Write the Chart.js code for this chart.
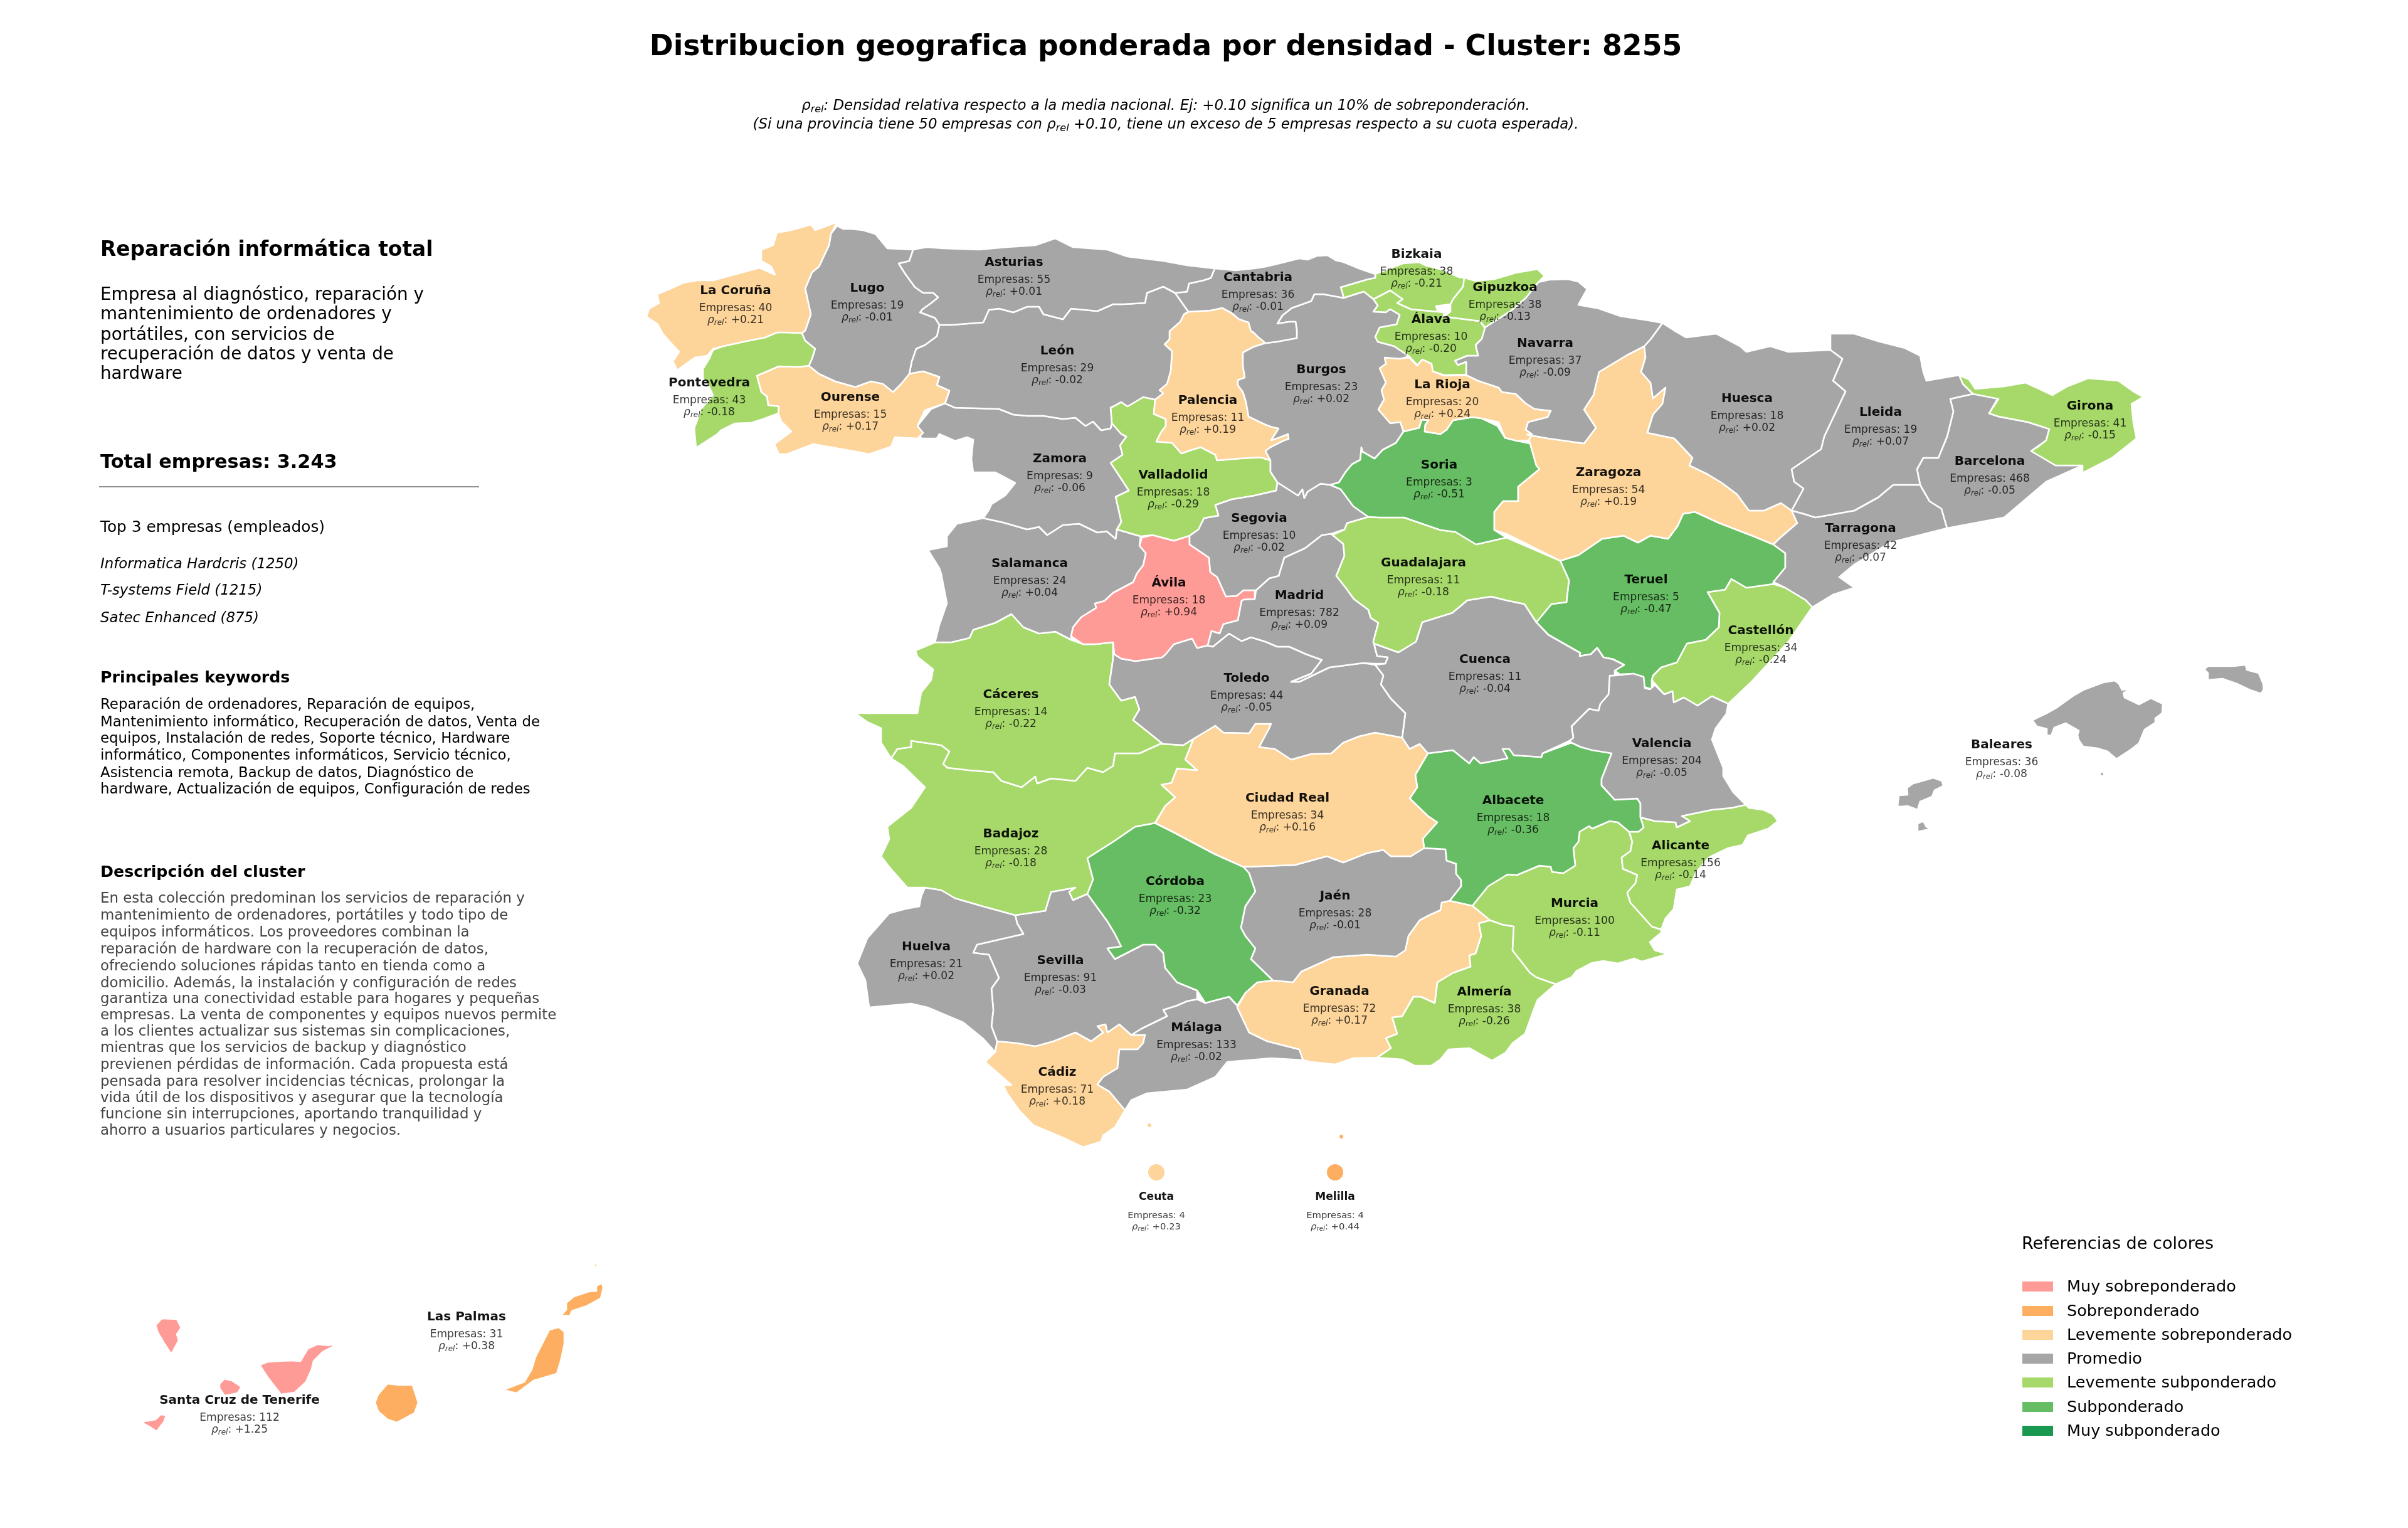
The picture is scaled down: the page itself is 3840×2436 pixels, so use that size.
<!DOCTYPE html>
<html lang="es"><head><meta charset="utf-8">
<script src="https://cdn.jsdelivr.net/npm/chart.js@4/dist/chart.umd.js"></script>
<style>
html,body{margin:0;padding:0;background:#fff}
#stage{position:relative;width:3840px;height:2436px;overflow:hidden;font-family:"DejaVu Sans",sans-serif;color:#000}
canvas{position:absolute;left:0;top:0}
.t{position:absolute;white-space:nowrap;transform:translateY(-50%);line-height:1.16}
.c{transform:translate(-50%,-50%)}
.sub{font-size:70%;position:relative;top:.28em}
.sw{position:absolute;width:49px;height:16px}
</style></head><body>
<div id="stage"><canvas id="map" width="3840" height="2436"></canvas></div>
<script>
// ---------- text ----------
const chartTitle = "Distribucion geografica ponderada por densidad - Cluster: 8255";
const clusterName = "Reparación informática total";
const clusterSummary = ["Empresa al diagnóstico, reparación y","mantenimiento de ordenadores y","portátiles, con servicios de","recuperación de datos y venta de","hardware"];
const totalLine = "Total empresas: 3.243";
const topHeading = "Top 3 empresas (empleados)";
const topCompanies = ["Informatica Hardcris (1250)","T-systems Field (1215)","Satec Enhanced (875)"];
const keywordsHeading = "Principales keywords";
const keywordLines = ["Reparación de ordenadores, Reparación de equipos,","Mantenimiento informático, Recuperación de datos, Venta de","equipos, Instalación de redes, Soporte técnico, Hardware","informático, Componentes informáticos, Servicio técnico,","Asistencia remota, Backup de datos, Diagnóstico de","hardware, Actualización de equipos, Configuración de redes"];
const descriptionHeading = "Descripción del cluster";
const descriptionLines = ["En esta colección predominan los servicios de reparación y","mantenimiento de ordenadores, portátiles y todo tipo de","equipos informáticos. Los proveedores combinan la","reparación de hardware con la recuperación de datos,","ofreciendo soluciones rápidas tanto en tienda como a","domicilio. Además, la instalación y configuración de redes","garantiza una conectividad estable para hogares y pequeñas","empresas. La venta de componentes y equipos nuevos permite","a los clientes actualizar sus sistemas sin complicaciones,","mientras que los servicios de backup y diagnóstico","previenen pérdidas de información. Cada propuesta está","pensada para resolver incidencias técnicas, prolongar la","vida útil de los dispositivos y asegurar que la tecnología","funcione sin interrupciones, aportando tranquilidad y","ahorro a usuarios particulares y negocios."];
const legendTitle = "Referencias de colores";
const legendLabels = ["Muy sobreponderado","Sobreponderado","Levemente sobreponderado","Promedio","Levemente subponderado","Subponderado","Muy subponderado"];
const legendColors = ["#FF9B96","#FDAE61","#FDD49A","#A6A6A6","#A6D96A","#66BD63","#1A9850"];

// ---------- values ----------
const provinces = ["La Coruña","Lugo","Asturias","Cantabria","Bizkaia","Gipuzkoa","Álava","Navarra","Huesca","Lleida","Girona","Barcelona","Tarragona","Pontevedra","Ourense","León","Palencia","Burgos","La Rioja","Zaragoza","Zamora","Valladolid","Soria","Segovia","Salamanca","Ávila","Guadalajara","Madrid","Teruel","Castellón","Cuenca","Toledo","Cáceres","Badajoz","Ciudad Real","Albacete","Valencia","Alicante","Murcia","Córdoba","Jaén","Huelva","Sevilla","Granada","Almería","Málaga","Cádiz","Baleares","Las Palmas","Santa Cruz de Tenerife","Ceuta","Melilla"];
const companies = [40,19,55,36,38,38,10,37,18,19,41,468,42,43,15,29,11,23,20,54,9,18,3,10,24,18,11,782,5,34,11,44,14,28,34,18,204,156,100,23,28,21,91,72,38,133,71,36,31,112,4,4];
const rhoRel = [0.21,-0.01,0.01,-0.01,-0.21,-0.13,-0.20,-0.09,0.02,0.07,-0.15,-0.05,-0.07,-0.18,0.17,-0.02,0.19,0.02,0.24,0.19,-0.06,-0.29,-0.51,-0.02,0.04,0.94,-0.18,0.09,-0.47,-0.24,-0.04,-0.05,-0.22,-0.18,0.16,-0.36,-0.05,-0.14,-0.11,-0.32,-0.01,0.02,-0.03,0.17,-0.26,-0.02,0.18,-0.08,0.38,1.25,0.23,0.44];
// label anchor of each province, in map units
const labelX = [1173,1383,1617,2006,2259,2400,2282,2464,2786,2999,3333,3173,2967,1131,1356,1686,1926,2107,2300,2565,1690,1871,2295,2008,1642,1864,2270,2072,2625,2808,2368,1988,1612,1612,2053,2413,2650,2680,2511,1874,2129,1477,1691,2136,2367,1908,1686,3192,744,382,1844,2129];
const labelY = [464,460,419,443,406,459,510,548,636,658,648,736,843,611,634,560,639,590,614,754,732,758,742,827,899,930,898,950,925,1006,1052,1082,1108,1330,1273,1277,1186,1349,1441,1406,1429,1510,1532,1581,1582,1639,1710,1188,2100,2233,1909,1909];

// ---------- outlines, x,y pairs in map units ----------
const laCoruna=[1335,354,1325,373,1322,391,1306,425,1295,434,1284,460,1293,501,1284,527,1279,531,1255,530,1239,530,1220,538,1185,545,1153,552,1137,556,1128,567,1108,570,1083,588,1080,590,1073,576,1083,561,1070,547,1057,532,1048,516,1031,505,1035,492,1051,483,1048,469,1070,460,1089,451,1112,447,1137,447,1185,434,1211,427,1236,438,1230,425,1214,416,1214,398,1233,391,1239,371,1262,367,1293,358,1300,367];
const lugo=[1325,373,1335,360,1345,365,1357,365,1376,367,1396,373,1415,396,1456,398,1450,416,1433,420,1443,436,1459,458,1472,467,1488,467,1496,474,1485,483,1471,493,1467,498,1491,507,1498,518,1494,536,1475,550,1461,556,1454,576,1450,596,1437,612,1424,625,1408,612,1389,608,1364,617,1332,608,1306,596,1290,583,1295,572,1300,556,1284,543,1279,531,1284,527,1293,501,1284,460,1295,434,1306,425,1322,391];
const asturias=[1456,398,1478,394,1504,396,1561,398,1606,394,1651,391,1683,380,1711,394,1766,398,1798,409,1855,416,1893,423,1937,428,1931,443,1919,447,1896,452,1893,465,1874,467,1855,457,1829,467,1826,483,1791,485,1775,485,1750,496,1708,492,1695,509,1664,501,1657,489,1638,489,1616,498,1593,492,1577,494,1568,514,1517,518,1498,518,1491,507,1467,498,1471,493,1485,483,1496,474,1488,467,1472,467,1459,458,1443,436,1433,420,1450,416];
const cantabria=[1937,428,1970,431,2000,428,2019,425,2040,420,2072,412,2085,414,2100,408,2117,407,2130,415,2143,418,2167,428,2193,437,2193,443,2182,445,2138,458,2143,475,2110,469,2096,469,2091,480,2060,491,2045,503,2037,516,2056,513,2066,513,2068,526,2068,539,2035,545,2018,547,2006,537,1999,530,1995,528,1991,514,1976,509,1964,499,1949,491,1930,495,1895,497,1874,467,1893,465,1896,452,1919,447,1931,443];
const bizkaia=[2193,437,2237,420,2263,418,2273,423,2300,430,2327,442,2335,443,2333,457,2317,477,2313,485,2290,488,2293,497,2250,493,2228,483,2237,477,2217,463,2190,477,2175,465,2165,468,2143,475,2138,458,2182,445,2193,443];
const gipuzkoa=[2333,442,2353,448,2383,445,2417,435,2452,429,2463,440,2453,450,2433,475,2410,495,2368,522,2360,512,2313,506,2302,505,2313,497,2313,485,2317,477,2333,457];
const alava=[2190,477,2217,463,2237,477,2228,483,2250,493,2293,497,2303,498,2302,505,2313,506,2360,512,2368,523,2363,540,2353,550,2357,567,2340,567,2320,575,2325,582,2338,577,2338,597,2303,598,2285,592,2283,580,2268,573,2260,582,2247,568,2223,552,2197,545,2193,537,2200,522,2227,517,2232,502,2217,493,2210,498,2190,497,2197,487];
const alavaWest=[2170,523,2180,512,2200,520,2195,525,2183,528,2182,533];
const navarra=[2453,450,2470,446,2500,445,2517,449,2531,461,2517,486,2550,492,2584,504,2636,512,2651,515,2632,541,2622,552,2593,567,2550,593,2541,630,2526,653,2545,682,2526,707,2469,699,2435,693,2443,692,2433,685,2437,673,2468,665,2473,655,2447,652,2433,643,2417,628,2395,625,2390,618,2357,607,2338,598,2338,577,2325,582,2320,575,2340,567,2357,567,2353,550,2363,540,2368,522,2410,495,2433,475];
const huesca=[2651,515,2670,527,2689,538,2737,532,2775,552,2785,561,2823,552,2852,561,2919,558,2938,572,2923,607,2943,624,2909,696,2904,716,2857,748,2861,768,2876,779,2857,814,2840,802,2813,814,2789,814,2770,788,2746,770,2723,756,2694,742,2699,730,2670,699,2627,690,2636,661,2651,644,2656,618,2636,635,2632,610,2617,593,2624,570,2622,552,2632,541];
const lleida=[2919,532,2957,532,2995,544,3038,555,3062,567,3067,593,3072,607,3124,598,3130,612,3146,628,3110,636,3115,656,3105,696,3091,730,3067,730,3057,748,3062,773,3019,773,2995,793,2957,814,2895,825,2876,819,2857,814,2876,779,2861,768,2857,748,2904,716,2909,696,2943,624,2923,607,2938,572,2919,558];
const girona=[3124,598,3140,605,3150,620,3196,616,3230,610,3254,621,3273,630,3297,616,3330,603,3378,607,3402,624,3418,633,3399,644,3402,673,3407,699,3368,730,3321,754,3321,742,3278,742,3239,719,3249,713,3263,702,3268,684,3234,673,3187,664,3172,659,3187,636,3146,628,3130,612];
const barcelona=[3110,636,3146,628,3187,633,3172,659,3187,664,3234,673,3268,684,3263,702,3239,719,3278,742,3321,742,3263,768,3196,825,3105,842,3096,811,3077,799,3062,773,3057,748,3067,730,3091,730,3105,696,3115,656];
const tarragona=[3019,773,3062,773,3077,799,3096,811,3105,842,3014,865,2957,900,2933,920,2957,937,2923,948,2890,968,2880,957,2847,937,2828,928,2847,905,2847,882,2828,868,2837,859,2866,834,2857,814,2876,819,2895,825,2957,814,2995,793];
const pontevedra=[1279,531,1284,543,1300,556,1295,572,1290,583,1274,585,1242,584,1207,599,1214,625,1223,632,1225,646,1242,648,1241,659,1217,668,1198,674,1172,675,1150,686,1144,692,1110,714,1107,683,1118,652,1137,630,1131,617,1121,603,1121,588,1131,572,1137,558,1153,552,1185,545,1220,538,1239,530,1255,530];
const ourense=[1207,599,1242,584,1274,585,1290,583,1306,596,1332,608,1364,617,1389,608,1408,612,1424,625,1437,612,1450,596,1472,592,1498,601,1494,614,1514,623,1507,643,1475,654,1463,679,1472,690,1463,699,1427,697,1421,712,1386,724,1360,719,1297,708,1255,724,1242,724,1235,708,1262,688,1246,672,1241,659,1242,648,1225,646,1223,632,1214,625];
const leon=[1498,518,1517,518,1568,514,1577,494,1593,492,1616,498,1638,489,1657,489,1664,501,1695,509,1708,492,1750,496,1775,485,1791,485,1826,483,1829,467,1855,457,1874,467,1895,497,1888,501,1882,513,1865,528,1865,541,1857,549,1869,560,1867,591,1861,612,1849,622,1855,627,1842,637,1823,633,1798,648,1788,641,1779,646,1771,650,1773,675,1771,683,1756,686,1743,672,1731,679,1715,666,1695,668,1664,663,1638,663,1616,661,1593,652,1561,651,1523,650,1507,643,1514,623,1494,614,1498,601,1472,592,1450,596,1454,576,1461,556,1475,550,1494,536];
const palencia=[1895,497,1930,495,1949,491,1964,499,1976,509,1991,514,1995,528,1999,530,2006,537,2018,547,1999,553,1982,562,1982,583,1985,602,1974,606,1974,614,1982,625,1987,641,1991,664,1999,668,2018,677,2029,681,2039,683,2027,702,2039,698,2054,692,2055,700,2048,702,2026,713,2018,719,2026,734,2010,729,1976,731,1953,733,1941,734,1938,725,1915,713,1901,717,1884,723,1869,706,1844,704,1851,690,1859,679,1859,668,1840,660,1842,637,1855,627,1849,622,1861,612,1867,591,1869,560,1857,549,1865,541,1865,528,1882,513,1888,501];
const burgos=[2037,769,2026,752,2026,734,2018,719,2026,713,2048,702,2055,700,2054,692,2039,698,2027,702,2039,683,2029,681,2018,677,1999,668,1991,664,1987,641,1982,625,1974,614,1974,606,1985,602,1982,583,1982,562,1999,553,2018,547,2035,545,2068,539,2068,526,2066,513,2056,513,2037,516,2045,503,2060,491,2091,480,2096,469,2110,469,2143,475,2165,468,2175,465,2190,477,2197,487,2190,497,2210,498,2217,493,2232,502,2227,517,2200,522,2193,537,2197,545,2223,552,2247,568,2233,572,2208,570,2210,580,2200,587,2210,610,2203,622,2207,637,2198,653,2217,675,2233,673,2238,688,2226,706,2205,717,2192,731,2173,720,2171,713,2169,733,2156,740,2146,752,2135,769,2121,773,2106,771,2085,784,2080,794,2077,780,2070,790];
const trevino=[2253,550,2273,543,2297,547,2313,562,2317,570,2285,562,2270,563,2263,558];
const laRioja=[2208,570,2233,572,2247,570,2260,583,2268,573,2283,580,2285,592,2303,599,2338,598,2357,607,2390,618,2395,625,2417,628,2433,643,2447,652,2473,655,2468,665,2437,673,2433,685,2443,692,2438,702,2420,703,2400,698,2390,673,2363,667,2348,665,2317,670,2307,685,2297,692,2272,688,2273,677,2278,670,2267,669,2263,682,2238,688,2233,673,2217,675,2198,653,2207,637,2203,622,2210,610,2200,587,2210,580];
const zaragoza=[2622,552,2624,570,2617,593,2632,610,2636,635,2656,618,2651,644,2636,661,2627,690,2670,699,2699,730,2694,742,2723,756,2746,770,2770,788,2789,814,2813,814,2840,802,2861,814,2866,834,2837,859,2828,868,2794,854,2742,834,2703,816,2684,819,2675,839,2660,859,2632,854,2612,865,2589,854,2555,859,2517,885,2488,894,2402,851,2383,845,2383,816,2397,799,2421,799,2421,776,2455,748,2450,742,2440,707,2435,693,2469,699,2526,707,2545,682,2526,653,2541,630,2550,593,2593,567];
const zaragozaIslet=[2574,613,2584,598,2595,607];
const zamora=[1463,679,1485,652,1507,643,1523,650,1561,651,1593,652,1616,661,1638,663,1664,663,1695,668,1715,666,1731,679,1743,672,1756,686,1771,683,1773,675,1788,692,1796,696,1786,710,1790,725,1771,738,1783,756,1800,782,1779,792,1788,832,1781,844,1779,859,1765,847,1750,849,1721,835,1695,837,1670,853,1657,840,1638,844,1600,833,1568,826,1577,813,1581,804,1603,790,1619,770,1587,753,1552,753,1549,732,1552,701,1542,697,1523,703,1498,692,1494,699,1469,699];
const valladolid=[1771,650,1773,675,1788,692,1796,696,1786,710,1790,725,1771,738,1783,756,1800,782,1779,792,1788,832,1781,844,1819,855,1838,853,1872,862,1897,854,1911,844,1920,826,1943,822,1938,805,1964,796,2000,790,2035,782,2037,769,2026,752,2026,734,2010,729,1976,731,1953,733,1941,734,1938,725,1915,713,1901,717,1884,723,1869,706,1844,704,1851,690,1859,679,1859,668,1840,660,1842,637,1823,633,1798,648,1788,641,1779,646];
const soria=[2238,688,2263,682,2267,669,2278,670,2273,677,2272,688,2297,692,2307,685,2317,670,2348,665,2363,667,2388,679,2400,698,2420,703,2440,707,2450,742,2455,748,2421,776,2421,799,2397,799,2383,816,2383,845,2402,857,2354,868,2321,848,2297,845,2239,825,2200,825,2182,824,2158,807,2138,780,2121,773,2135,769,2146,752,2156,740,2169,733,2171,713,2173,720,2192,731,2205,717,2226,706];
const segovia=[2037,769,2070,790,2077,780,2080,794,2085,784,2106,771,2121,773,2138,780,2158,807,2182,824,2148,834,2144,844,2123,851,2108,853,2081,874,2048,889,2039,918,2024,922,2003,941,2001,941,1983,941,1972,950,1955,951,1941,920,1930,912,1928,889,1897,868,1897,854,1911,844,1920,826,1943,822,1938,805,1964,796,2000,790,2035,782];
const salamanca=[1568,826,1600,833,1638,844,1657,840,1670,853,1695,837,1721,835,1750,849,1765,847,1779,859,1781,844,1819,855,1817,870,1827,882,1823,901,1813,914,1807,928,1775,945,1761,958,1746,962,1748,969,1724,984,1711,1000,1708,1014,1708,1020,1683,1007,1657,1010,1632,1000,1613,979,1587,993,1552,1004,1546,1017,1517,1024,1491,1024,1498,996,1510,962,1501,915,1498,906,1480,877,1510,871,1510,855,1526,835];
const avila=[1821,857,1838,853,1872,862,1897,854,1897,868,1928,889,1930,912,1941,920,1955,951,1972,950,1983,941,2001,941,2001,955,1983,956,1980,958,1974,989,1951,995,1945,1010,1932,1006,1926,1029,1909,1033,1901,1018,1872,1027,1859,1043,1853,1048,1811,1054,1788,1050,1777,1043,1775,1024,1747,1027,1727,1027,1708,1014,1711,1000,1724,984,1748,969,1746,962,1761,958,1775,945,1807,928,1813,914,1823,901,1827,882,1817,870];
const guadalajara=[2182,824,2200,825,2239,825,2297,845,2321,848,2354,868,2402,857,2488,894,2502,925,2498,960,2474,963,2450,992,2431,963,2402,957,2378,951,2340,957,2316,977,2268,992,2258,1023,2230,1040,2191,1026,2190,1023,2198,993,2186,985,2182,972,2159,955,2146,937,2131,918,2144,886,2142,867,2125,853,2144,844,2148,834];
const madrid=[2123,851,2108,853,2081,874,2048,889,2039,918,2024,922,2003,941,2001,955,1983,956,1980,958,1974,989,1951,995,1945,1010,1932,1006,1926,1029,1934,1031,1960,1010,1980,1022,1995,1016,2018,1023,2037,1031,2056,1031,2083,1043,2108,1052,2091,1074,2059,1087,2072,1087,2120,1064,2174,1057,2190,1058,2209,1058,2213,1048,2196,1046,2190,1023,2198,993,2186,985,2182,972,2159,955,2146,937,2131,918,2144,886,2142,867,2125,853];
const teruel=[2488,894,2517,885,2555,859,2589,854,2612,865,2632,854,2660,859,2675,839,2684,819,2703,816,2742,834,2794,854,2828,868,2847,882,2847,905,2828,928,2828,931,2785,937,2761,923,2751,940,2723,944,2742,977,2741,1000,2720,1020,2690,1026,2674,1056,2649,1064,2636,1077,2634,1084,2634,1099,2622,1095,2621,1084,2605,1074,2583,1075,2575,1069,2590,1060,2572,1051,2557,1048,2547,1033,2537,1043,2519,1046,2520,1041,2469,1012,2450,992,2474,963,2498,960,2502,925];
const castellon=[2761,923,2785,937,2828,931,2847,937,2880,957,2890,968,2852,1023,2794,1086,2756,1122,2730,1110,2707,1125,2685,1112,2669,1120,2667,1102,2654,1107,2634,1084,2636,1077,2649,1064,2674,1056,2690,1026,2720,1020,2741,1000,2742,977,2723,944,2751,940];
const cuenca=[2191,1026,2230,1040,2258,1023,2268,992,2316,977,2340,957,2378,951,2402,957,2431,963,2450,992,2469,1012,2520,1041,2519,1046,2537,1043,2547,1033,2557,1048,2572,1051,2590,1060,2575,1069,2575,1077,2567,1077,2565,1107,2552,1122,2549,1133,2534,1130,2519,1145,2506,1158,2509,1176,2503,1181,2460,1201,2458,1207,2414,1204,2407,1194,2396,1194,2404,1209,2361,1217,2350,1207,2343,1217,2317,1196,2277,1201,2264,1186,2248,1194,2236,1176,2241,1137,2218,1114,2202,1091,2206,1077,2193,1060,2209,1058,2213,1048,2196,1046];
const toledo=[1775,1024,1777,1043,1788,1050,1811,1054,1853,1048,1872,1027,1901,1018,1909,1033,1926,1029,1934,1031,1960,1010,1980,1022,1995,1016,2018,1023,2037,1031,2056,1031,2083,1043,2108,1052,2091,1074,2059,1087,2072,1087,2120,1064,2174,1057,2193,1060,2206,1077,2202,1091,2218,1114,2241,1137,2236,1176,2193,1168,2167,1174,2142,1184,2123,1201,2091,1202,2059,1211,2033,1194,2008,1191,2024,1161,2027,1154,2002,1154,1992,1169,1951,1168,1938,1157,1903,1178,1887,1188,1855,1186,1852,1184,1807,1148,1817,1131,1810,1111,1788,1117,1769,1091,1775,1050];
const caceres=[1491,1024,1460,1037,1463,1047,1488,1067,1485,1084,1469,1104,1463,1137,1364,1137,1383,1151,1405,1161,1405,1184,1421,1209,1431,1194,1453,1191,1453,1181,1501,1188,1514,1198,1504,1218,1511,1224,1546,1228,1584,1231,1597,1245,1629,1255,1651,1238,1654,1249,1676,1241,1715,1245,1734,1224,1759,1231,1775,1221,1778,1201,1817,1201,1850,1186,1852,1184,1807,1148,1817,1131,1810,1111,1788,1117,1769,1091,1775,1050,1775,1024,1747,1027,1727,1027,1708,1020,1683,1007,1657,1010,1632,1000,1613,979,1587,993,1552,1004,1546,1017,1517,1024];
const badajoz=[1421,1209,1431,1194,1453,1191,1453,1181,1501,1188,1514,1198,1504,1218,1511,1224,1546,1228,1584,1231,1597,1245,1629,1255,1651,1238,1654,1249,1676,1241,1715,1245,1734,1224,1759,1231,1775,1221,1778,1201,1817,1201,1850,1186,1855,1186,1887,1188,1903,1178,1890,1211,1909,1228,1877,1225,1868,1248,1852,1251,1874,1271,1858,1285,1842,1312,1810,1318,1775,1342,1734,1368,1743,1402,1734,1425,1711,1435,1705,1422,1715,1415,1676,1422,1667,1452,1619,1459,1568,1445,1523,1432,1501,1419,1475,1415,1447,1415,1418,1382,1405,1365,1418,1338,1415,1318,1453,1288,1475,1255,1440,1221];
const ciudadReal=[1903,1178,1938,1157,1951,1168,1992,1169,2002,1154,2027,1154,2024,1161,2008,1191,2033,1194,2059,1211,2091,1202,2123,1201,2142,1184,2167,1174,2193,1168,2236,1176,2248,1194,2264,1186,2277,1201,2257,1235,2260,1255,2248,1273,2277,1301,2292,1311,2269,1337,2271,1352,2250,1365,2218,1365,2206,1355,2180,1360,2142,1375,2116,1365,2065,1379,1983,1382,1938,1362,1868,1325,1842,1312,1858,1285,1874,1271,1852,1251,1868,1248,1877,1225,1909,1228,1890,1211];
const ciudadRealEnclave=[1855,1186,1871,1157,1893,1173,1887,1188];
const albacete=[2277,1201,2317,1196,2343,1217,2350,1207,2361,1217,2404,1209,2396,1194,2407,1194,2414,1204,2458,1207,2460,1201,2506,1184,2521,1191,2570,1201,2554,1242,2554,1252,2575,1275,2611,1273,2616,1281,2616,1303,2621,1319,2613,1326,2598,1326,2580,1311,2567,1309,2539,1321,2534,1317,2519,1326,2517,1342,2509,1352,2512,1380,2493,1392,2475,1390,2473,1382,2455,1380,2419,1395,2404,1394,2373,1413,2348,1444,2312,1436,2330,1413,2330,1403,2322,1393,2322,1377,2307,1372,2305,1354,2271,1352,2269,1337,2292,1311,2277,1301,2248,1273,2260,1255,2257,1235];
const valencia=[2575,1077,2605,1074,2621,1079,2623,1097,2631,1099,2639,1092,2654,1107,2667,1102,2669,1120,2685,1112,2707,1125,2730,1110,2756,1122,2753,1138,2736,1161,2730,1179,2748,1224,2748,1237,2764,1263,2784,1283,2761,1288,2730,1291,2682,1301,2695,1309,2674,1319,2672,1311,2639,1309,2616,1303,2616,1281,2611,1273,2575,1275,2554,1252,2554,1242,2570,1201,2539,1196,2521,1191,2506,1184,2503,1181,2509,1176,2506,1158,2519,1145,2534,1130,2549,1133,2552,1122,2565,1107,2567,1077];
const rinconAdemuz=[2519,1046,2532,1064,2557,1071,2575,1069,2590,1060,2572,1051,2557,1048,2547,1033,2537,1043];
const alicante=[2616,1303,2639,1309,2672,1311,2674,1319,2695,1309,2682,1301,2730,1291,2761,1288,2784,1283,2789,1288,2812,1291,2827,1298,2835,1309,2820,1321,2787,1332,2779,1347,2756,1352,2725,1367,2705,1390,2695,1413,2674,1418,2669,1449,2656,1464,2649,1482,2634,1477,2600,1439,2595,1423,2608,1408,2611,1395,2588,1385,2586,1367,2600,1357,2603,1342,2598,1326,2613,1326,2621,1319];
const murcia=[2348,1444,2373,1413,2404,1394,2419,1395,2455,1380,2473,1382,2475,1390,2493,1392,2512,1380,2509,1352,2517,1342,2519,1326,2534,1317,2539,1321,2567,1309,2580,1311,2598,1326,2603,1342,2600,1357,2586,1367,2588,1385,2611,1395,2608,1408,2595,1423,2600,1439,2634,1477,2649,1482,2649,1487,2631,1502,2639,1515,2659,1521,2618,1533,2606,1528,2580,1536,2557,1532,2539,1535,2514,1548,2506,1558,2481,1569,2450,1558,2440,1551,2412,1515,2414,1477,2396,1474,2376,1467];
const cordoba=[1842,1312,1868,1325,1938,1362,1983,1382,1992,1392,2002,1421,1986,1445,1979,1479,1986,1492,2002,1512,1995,1529,2030,1563,2005,1566,1986,1583,1973,1603,1960,1589,1922,1599,1909,1579,1877,1566,1858,1543,1855,1519,1842,1506,1823,1506,1778,1529,1766,1512,1788,1509,1778,1489,1766,1469,1734,1425,1743,1402,1734,1368,1775,1342,1810,1318];
const jaen=[1983,1382,2065,1379,2116,1365,2142,1375,2180,1360,2206,1355,2218,1365,2250,1365,2271,1352,2305,1354,2307,1372,2322,1377,2322,1393,2330,1403,2330,1413,2312,1436,2299,1439,2297,1451,2279,1459,2264,1467,2246,1492,2241,1515,2226,1525,2180,1522,2126,1526,2075,1549,2062,1566,2030,1563,1995,1529,2002,1512,1986,1492,1979,1479,1986,1445,2002,1421,1992,1392];
const huelva=[1475,1415,1501,1419,1523,1432,1568,1445,1619,1459,1622,1472,1632,1489,1558,1506,1552,1519,1577,1522,1593,1559,1581,1576,1584,1610,1581,1636,1590,1660,1587,1677,1568,1656,1536,1630,1479,1606,1453,1600,1386,1606,1380,1563,1367,1536,1383,1496,1418,1456,1444,1449,1466,1445,1469,1429];
const sevilla=[1619,1459,1667,1452,1676,1422,1715,1415,1705,1422,1711,1435,1734,1425,1766,1469,1778,1489,1788,1509,1766,1512,1778,1529,1823,1506,1842,1506,1855,1519,1858,1543,1877,1566,1909,1579,1909,1593,1893,1596,1877,1603,1855,1610,1861,1620,1820,1640,1804,1650,1785,1633,1766,1646,1763,1633,1750,1636,1759,1646,1740,1660,1715,1646,1680,1660,1651,1668,1622,1663,1590,1660,1581,1636,1584,1610,1581,1576,1593,1559,1577,1522,1552,1519,1558,1506,1632,1489,1622,1472];
const granada=[1973,1606,1986,1583,2005,1566,2030,1563,2062,1566,2075,1549,2126,1526,2180,1522,2226,1525,2241,1515,2246,1492,2264,1467,2279,1459,2297,1451,2299,1439,2312,1436,2348,1444,2376,1467,2358,1472,2362,1492,2353,1520,2343,1523,2345,1541,2317,1551,2292,1566,2288,1599,2266,1589,2254,1589,2236,1620,2220,1622,2228,1648,2210,1655,2218,1671,2196,1686,2158,1687,2129,1697,2091,1693,2078,1690,2072,1673,2021,1660,1992,1646];
const almeria=[2376,1467,2358,1472,2362,1492,2353,1520,2343,1523,2345,1541,2317,1551,2292,1566,2288,1599,2266,1589,2254,1589,2236,1620,2220,1622,2228,1648,2210,1655,2218,1671,2196,1686,2236,1689,2256,1699,2282,1699,2297,1689,2310,1673,2343,1671,2379,1691,2401,1678,2412,1663,2432,1648,2445,1612,2452,1594,2481,1569,2450,1558,2440,1551,2412,1515,2414,1477,2396,1474];
const malaga=[1820,1640,1861,1620,1855,1610,1877,1603,1893,1596,1909,1593,1922,1599,1960,1589,1973,1603,1973,1606,1992,1646,2021,1660,2072,1673,2078,1690,2027,1687,1957,1693,1938,1717,1893,1737,1829,1743,1804,1754,1794,1770,1769,1740,1750,1729,1759,1717,1782,1703,1785,1673,1814,1673,1823,1663,1826,1650,1804,1650];
const cadiz=[1590,1660,1622,1663,1651,1668,1680,1660,1715,1646,1740,1660,1759,1646,1750,1636,1763,1633,1766,1646,1785,1633,1804,1650,1826,1650,1823,1663,1814,1673,1785,1673,1782,1703,1759,1717,1750,1729,1769,1740,1794,1770,1778,1797,1759,1810,1756,1820,1727,1829,1696,1814,1648,1794,1625,1770,1606,1743,1600,1730,1613,1730,1571,1693,1587,1677];
const mallorca=[3241,1148,3262,1138,3280,1128,3294,1118,3308,1108,3322,1100,3354,1088,3372,1085,3379,1090,3384,1100,3398,1098,3386,1105,3388,1112,3411,1123,3430,1113,3449,1122,3448,1137,3437,1145,3437,1152,3420,1163,3411,1185,3398,1195,3375,1210,3361,1198,3345,1193,3322,1190,3315,1180,3313,1172,3315,1165,3294,1153,3276,1160,3271,1173,3264,1172,3264,1162,3248,1158];
const menorca=[3515,1067,3521,1062,3540,1062,3561,1062,3581,1060,3583,1068,3602,1073,3609,1090,3610,1098,3606,1106,3588,1100,3567,1090,3544,1082,3521,1084,3521,1073];
const ibiza=[3026,1285,3028,1268,3042,1267,3041,1256,3051,1249,3062,1246,3083,1240,3097,1245,3099,1253,3085,1260,3081,1270,3062,1278,3058,1291,3042,1285,3030,1286];
const formentera=[3058,1313,3067,1309,3072,1318,3085,1325,3092,1323,3072,1323,3058,1326];
const laPalma=[248,2113,258,2102,282,2103,289,2117,282,2127,285,2137,273,2159,261,2140,252,2125];
const tenerife=[414,2176,427,2171,464,2169,479,2170,491,2150,506,2143,524,2145,531,2143,531,2147,515,2155,500,2170,497,2183,488,2203,470,2220,448,2223,427,2196];
const gomera=[350,2206,358,2198,370,2201,385,2211,379,2221,358,2225,350,2213];
const hierro=[226,2268,230,2266,248,2263,256,2255,265,2256,262,2266,250,2282,239,2275];
const granCanaria=[598,2236,603,2223,618,2206,636,2208,658,2208,667,2236,661,2253,633,2268,618,2263,603,2250];
const fuerteventura=[802,2216,836,2203,848,2183,854,2163,876,2120,891,2116,900,2123,900,2143,894,2170,888,2190,851,2201,824,2221];
const lanzarote=[895,2097,903,2088,903,2077,915,2067,939,2059,951,2058,951,2050,960,2045,962,2053,958,2070,936,2082,912,2090,909,2098];
const graciosa=[948,2042,953,2036,954,2040];

// [province, outline] in paint order
const outlines = [
 ["La Coruña",laCoruna],["Lugo",lugo],["Asturias",asturias],["Cantabria",cantabria],["Burgos",burgos],["Bizkaia",bizkaia],["Gipuzkoa",gipuzkoa],["Álava",alava],["Álava",alavaWest],["Burgos",trevino],["Navarra",navarra],["Huesca",huesca],["Lleida",lleida],["Girona",girona],["Barcelona",barcelona],["Tarragona",tarragona],["Pontevedra",pontevedra],["Ourense",ourense],["León",leon],["Palencia",palencia],["La Rioja",laRioja],["Zaragoza",zaragoza],["Zaragoza",zaragozaIslet],["Zamora",zamora],["Valladolid",valladolid],["Soria",soria],["Segovia",segovia],["Salamanca",salamanca],["Guadalajara",guadalajara],["Madrid",madrid],["Ávila",avila],["Toledo",toledo],["Cuenca",cuenca],["Valencia",valencia],["Valencia",rinconAdemuz],["Teruel",teruel],["Castellón",castellon],["Cáceres",caceres],["Badajoz",badajoz],["Ciudad Real",ciudadReal],["Ciudad Real",ciudadRealEnclave],["Albacete",albacete],["Alicante",alicante],["Murcia",murcia],["Jaén",jaen],["Córdoba",cordoba],["Huelva",huelva],["Sevilla",sevilla],["Granada",granada],["Almería",almeria],["Málaga",malaga],["Cádiz",cadiz],["Baleares",mallorca],["Baleares",menorca],["Baleares",ibiza],["Baleares",formentera],["Santa Cruz de Tenerife",laPalma],["Santa Cruz de Tenerife",tenerife],["Santa Cruz de Tenerife",gomera],["Santa Cruz de Tenerife",hierro],["Las Palmas",granCanaria],["Las Palmas",fuerteventura],["Las Palmas",lanzarote],["Las Palmas",graciosa]
];
// Ceuta and Melilla symbols, tiny real territories and small islets
const cityMarkers = [["Ceuta",1844,1869,13],["Melilla",2129,1869,13],["Ceuta",1833,1794,3],["Melilla",2139,1812,3],["Baleares",3352,1234,2],["Las Palmas",950,2017,1]];

// ---------- helpers ----------
function classColor(r){
  const a=Math.abs(r);
  if(a<0.10) return legendColors[3];
  if(r>0) return a<0.30?legendColors[2]:a<0.75?legendColors[1]:legendColors[0];
  return a<0.30?legendColors[4]:a<0.75?legendColors[5]:legendColors[6];
}
const colorOf = n => classColor(rhoRel[provinces.indexOf(n)]);
const toPoints = flat => { const p=[]; for(let i=0;i<flat.length;i+=2) p.push({x:flat[i],y:flat[i+1]}); p.push({x:flat[0],y:flat[1]}); return p; };

const datasets = outlines.map(([name,flat])=>({
  type:'line',label:name,data:toPoints(flat),fill:'shape',tension:0,
  backgroundColor:colorOf(name),borderColor:'#FFFFFF',borderWidth:2.6,borderJoinStyle:'round',
  pointRadius:0,pointHoverRadius:0,clip:false
}));
cityMarkers.forEach(([name,x,y,r])=>datasets.push({
  type:'scatter',label:name,data:[{x,y}],backgroundColor:colorOf(name),borderWidth:0,pointRadius:r,pointHoverRadius:r,clip:false
}));

// province labels, anchored through the chart scales
const labelPlugin = {
  id:'provinceLabels',
  afterDatasetsDraw(chart){
    const {ctx,scales:{x,y}} = chart;
    ctx.save(); ctx.textBaseline='middle';
    provinces.forEach((name,i)=>{
      const small = name==='Ceuta'||name==='Melilla';
      const px=x.getPixelForValue(labelX[i]), py=y.getPixelForValue(labelY[i]);
      const empY=py+(small?29.5:28), rhoY=empY+(small?17.5:18.5), fs=small?14.8:17.1;
      ctx.textAlign='center';
      ctx.fillStyle='rgba(0,0,0,0.92)';
      ctx.font=`bold ${small?17.1:20}px "DejaVu Sans"`;
      ctx.fillText(name,px,py);
      ctx.fillStyle='rgba(0,0,0,0.78)';
      ctx.font=`${fs}px "DejaVu Sans"`;
      ctx.fillText(`Empresas: ${companies[i]}`,px,empY);
      const r=rhoRel[i], val=`: ${r>=0?'+':'-'}${Math.abs(r).toFixed(2)}`;
      const fRho=`italic ${fs}px "DejaVu Sans"`, fSub=`italic ${fs*0.7}px "DejaVu Sans"`, fVal=`${fs}px "DejaVu Sans"`;
      ctx.font=fRho; const w1=ctx.measureText('ρ').width;
      ctx.font=fSub; const w2=ctx.measureText('rel').width;
      ctx.font=fVal; const w3=ctx.measureText(val).width;
      let cx=px-(w1+w2+w3)/2;
      ctx.textAlign='left';
      ctx.font=fRho; ctx.fillText('ρ',cx,rhoY); cx+=w1;
      ctx.font=fSub; ctx.fillText('rel',cx,rhoY+fs*0.24); cx+=w2;
      ctx.font=fVal; ctx.fillText(val,cx,rhoY);
    });
    ctx.restore();
  }
};

new Chart(document.getElementById('map'),{
  type:'scatter',
  data:{datasets},
  plugins:[labelPlugin],
  options:{
    responsive:false,animation:false,events:[],
    layout:{padding:0,autoPadding:false},
    plugins:{legend:{display:false},tooltip:{enabled:false},title:{display:false}},
    scales:{
      x:{type:'linear',min:0,max:3840,display:false},
      y:{type:'linear',min:0,max:2436,reverse:true,display:false}
    }
  }
});

// ---------- page text ----------
const stage=document.getElementById('stage');
function put(html,x,y,size,opt={}){
  const d=document.createElement('div');
  d.className='t'+(opt.center?' c':'');
  d.style.left=x+'px';d.style.top=y+'px';d.style.fontSize=size+'px';
  if(opt.bold)d.style.fontWeight='bold';
  if(opt.italic)d.style.fontStyle='italic';
  if(opt.color)d.style.color=opt.color;
  d.innerHTML=html;stage.appendChild(d);return d;
}
const rhoHtml='ρ<span class="sub">rel</span>';
put(chartTitle,1859,73,45.7,{center:true,bold:true});
put(`${rhoHtml}: Densidad relativa respecto a la media nacional. Ej: +0.10 significa un 10% de sobreponderación.`,1859,167,22.85,{center:true,italic:true});
put(`(Si una provincia tiene 50 empresas con ${rhoHtml} +0.10, tiene un exceso de 5 empresas respecto a su cuota esperada).`,1859,197,22.85,{center:true,italic:true});
put(clusterName,160,397,32.8,{bold:true});
const summaryY=[469,500,533,564,595];
clusterSummary.forEach((l,i)=>put(l,160,summaryY[i],27.8));
put(totalLine,160,736,30.3,{bold:true});
const rule=document.createElement('div');
rule.style.cssText='position:absolute;left:158px;top:775px;width:606px;height:2px;background:#909090';
stage.appendChild(rule);
put(topHeading,160,840,24.8);
const topY=[898,940,984];
topCompanies.forEach((l,i)=>put(l,160,topY[i],22.85,{italic:true}));
put(keywordsHeading,160,1080,25.3,{bold:true});
const kwY=[1122,1150,1176,1203,1231,1257];
keywordLines.forEach((l,i)=>put(l,160,kwY[i],22.85));
put(descriptionHeading,160,1390,25.3,{bold:true});
const descY=[1431,1458,1485,1512,1539,1566,1591,1617,1643,1669,1696,1723,1749,1775,1801];
descriptionLines.forEach((l,i)=>put(l,160,descY[i],22.85,{color:'#444'}));
put(legendTitle,3224,1982,27.1);
const legendY=[2051,2090,2128,2166,2204,2243,2281];
legendLabels.forEach((l,i)=>{
  const s=document.createElement('div');s.className='sw';
  s.style.left='3225px';s.style.top=(legendY[i]-8)+'px';s.style.background=legendColors[i];
  stage.appendChild(s);
  put(l,3296,legendY[i],25.5);
});
</script>
</body></html>
